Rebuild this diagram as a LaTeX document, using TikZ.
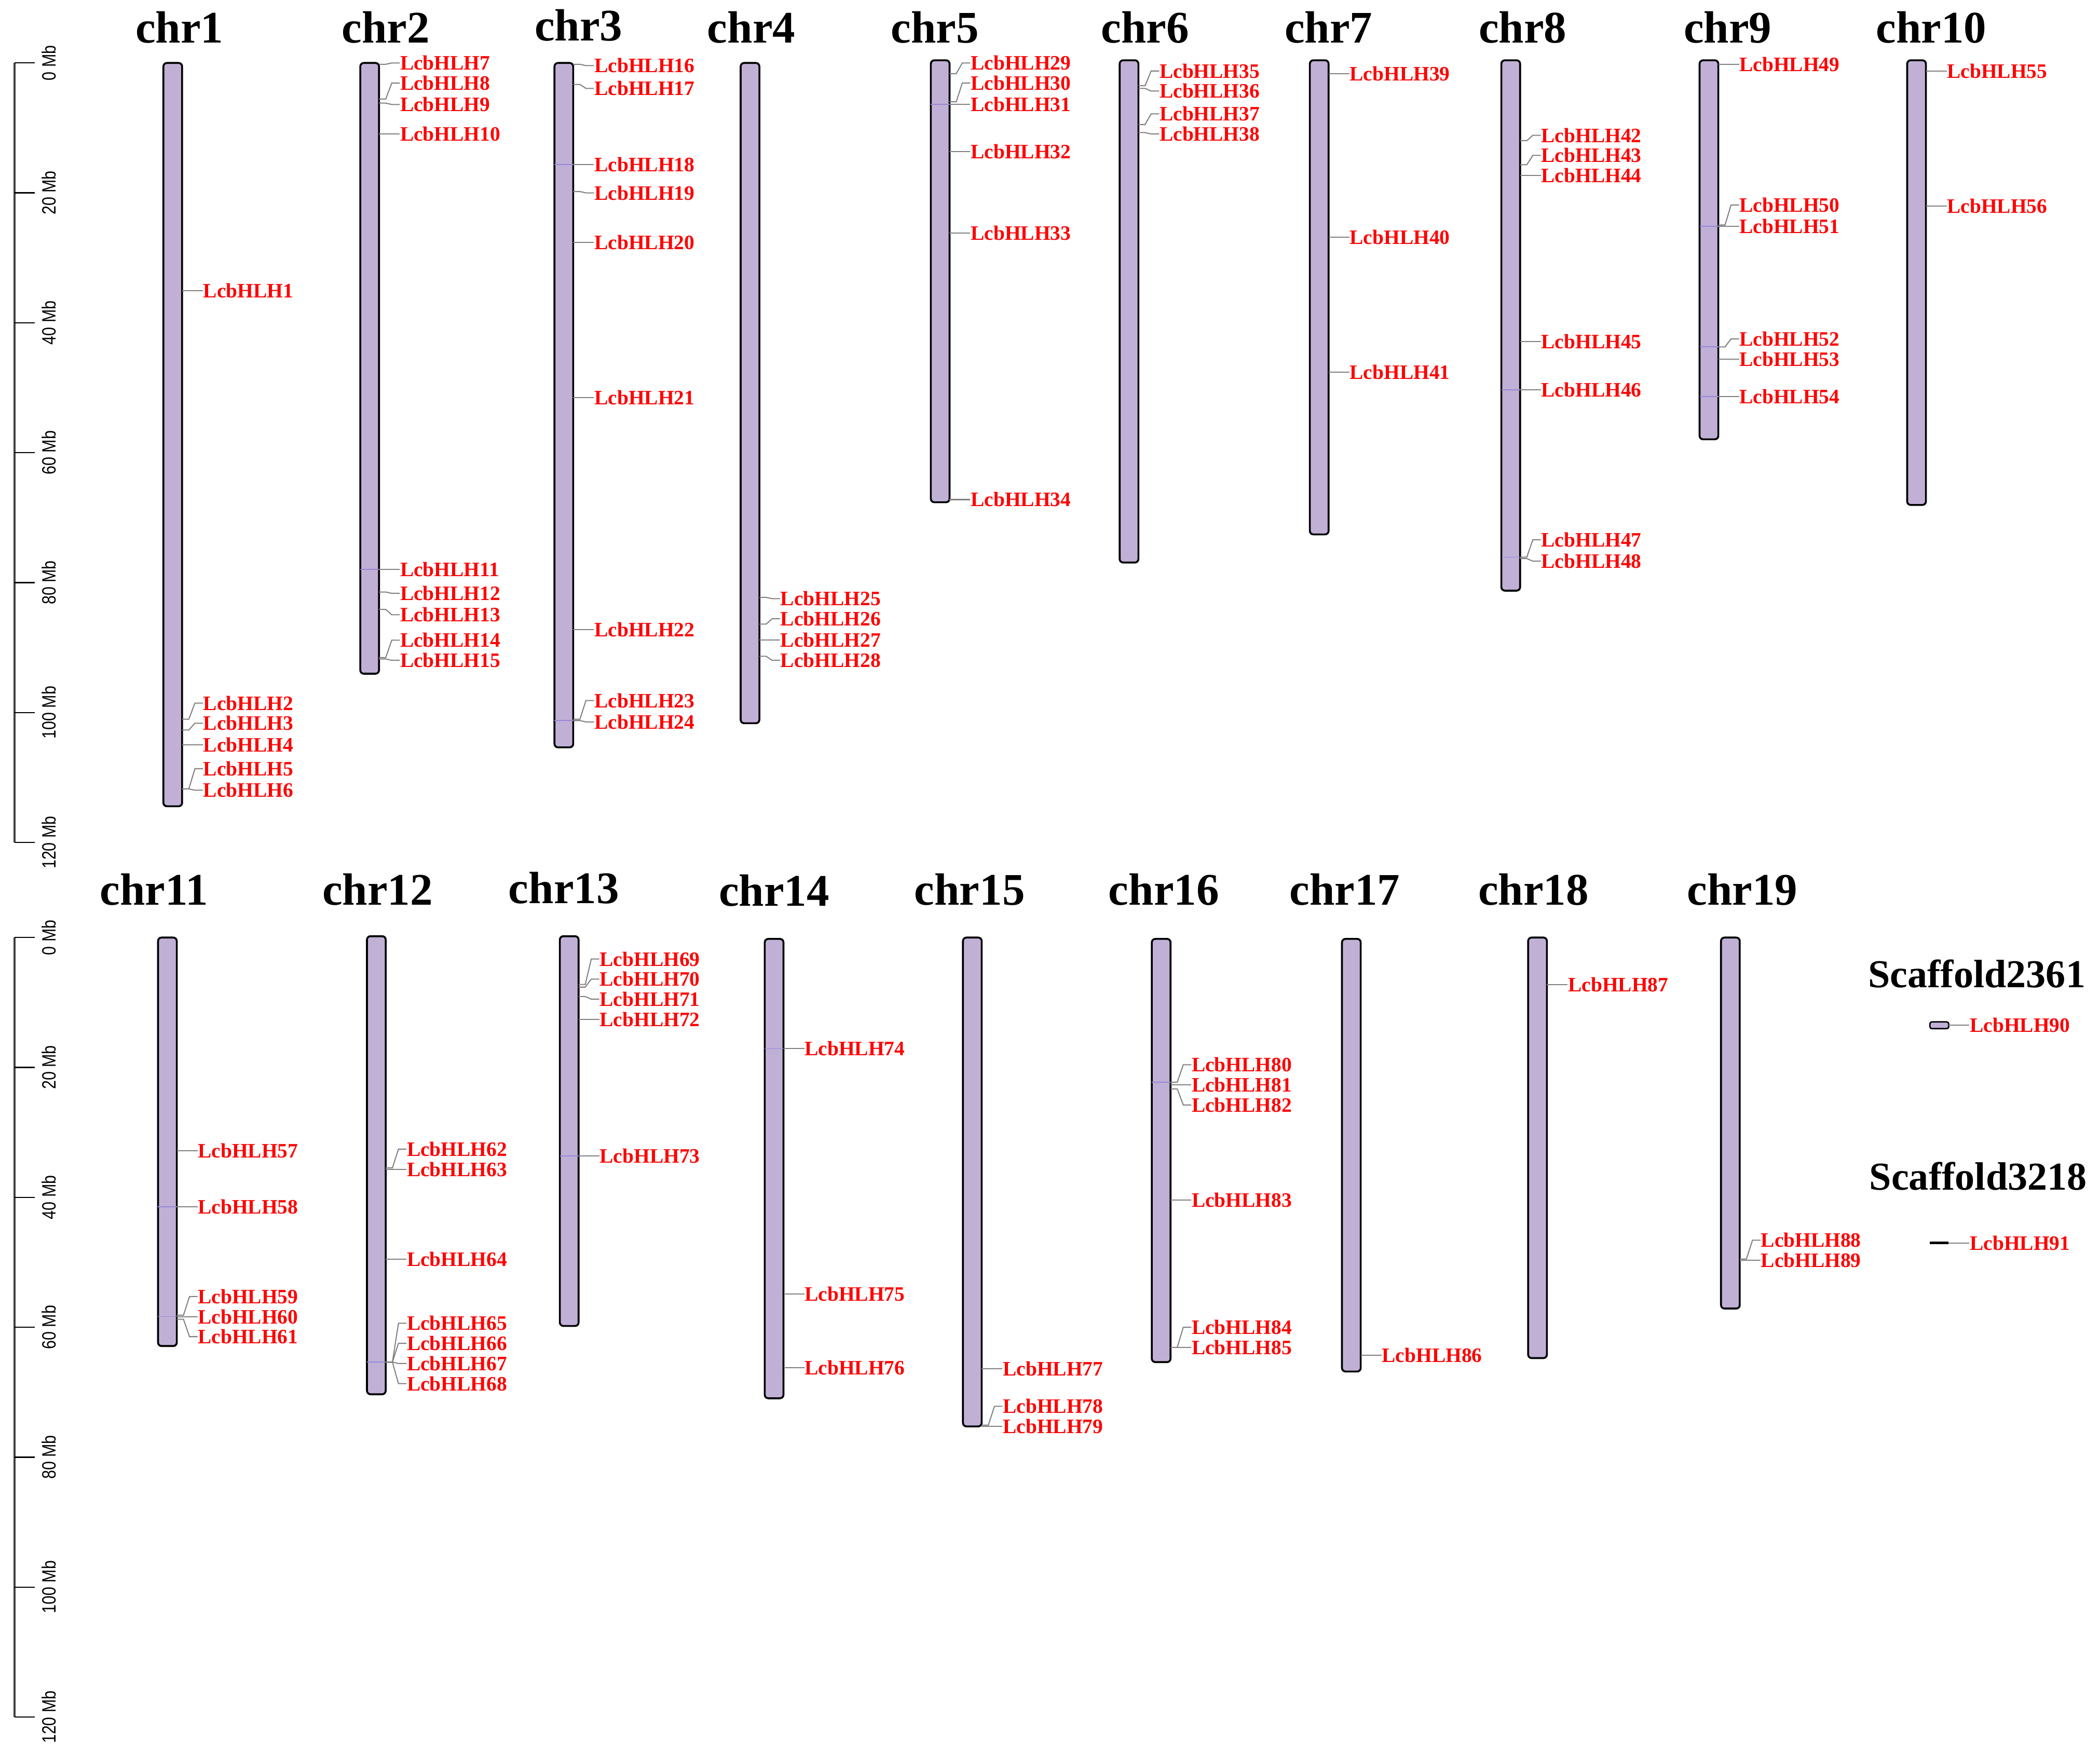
\documentclass[tikz,border=0pt]{standalone}
\usepackage{fontspec}
\setmainfont{Liberation Serif}
\newfontfamily\axisfont[FakeStretch=0.82]{Liberation Sans}
\usepackage{tikz}
\usetikzlibrary{calc}

\definecolor{chrfill}{RGB}{192,176,214}
\definecolor{bandcol}{RGB}{150,135,215}

% one chromosome: name, centre x, top, bottom, title x, title y
\newcommand{\chrom}[6]{%
  \draw[chrbar] (#2-7,#3) rectangle (#2+7,#4);
  \node[chrtitle] (t#1) at (#5,#6) {chr#1};
}
% one gene: bar edge x, gene y, label y, number
\newcommand{\gene}[4]{%
  \coordinate (g#4) at (#1,#2);
  \node[genelabel] (l#4) at (#1+15.5,#3) {LcbHLH#4};
  \draw[geneline] (g#4) -- ++(5,0) -- ($(l#4.west)+(-6,0)$) -- (l#4.west);
}
% band across a bar: bar edge x, y
\newcommand{\band}[2]{\draw[bandline] (#1-14,#2) -- (#1,#2);}

\begin{document}
\begin{tikzpicture}[x=0.02cm, y=-0.02cm]
    \tikzstyle{chrbar}=[draw=black,fill=chrfill,line width=0.8pt,rounded corners=1.5pt]
    \tikzstyle{chrtitle}=[inner sep=0pt,font=\fontsize{19.2}{22}\selectfont\bfseries]
    \tikzstyle{scftitle}=[inner sep=0pt,font=\fontsize{16.8}{20}\selectfont\bfseries]
    \tikzstyle{genelabel}=[anchor=west,inner sep=0pt,text=red,font=\fontsize{8.7}{10}\selectfont\bfseries]
    \tikzstyle{geneline}=[draw=gray,line width=0.45pt]
    \tikzstyle{bandline}=[draw=bandcol,line width=0.4pt]
    \tikzstyle{axline}=[draw=black!75,line width=0.9pt]
    \tikzstyle{axtick}=[draw=black,line width=0.5pt]
    \tikzstyle{axlabel}=[rotate=90,inner sep=0pt,font=\axisfont\fontsize{8.2}{9}\selectfont]
    \useasboundingbox (0,0) rectangle (1568,1302);

    % scales
    \draw[axline] (11,47) -- (11,629);
    \foreach \v in {0,20,...,120} {
      \draw[axtick] (11,47+4.85*\v) -- (26,47+4.85*\v);
      \node[axlabel] (a\v) at (36.5,47+4.85*\v) {\v\ Mb};
    }
    \draw[axline] (11,700) -- (11,1282);
    \foreach \v in {0,20,...,120} {
      \draw[axtick] (11,700+4.85*\v) -- (26,700+4.85*\v);
      \node[axlabel] (b\v) at (36.5,700+4.85*\v) {\v\ Mb};
    }

    % upper row
    \chrom{1}{129}{47}{602}{134}{20.5}
    \chrom{2}{276}{47}{503}{288}{20.5}
    \chrom{3}{421}{47}{558}{432}{19}
    \chrom{4}{560}{47}{540}{561}{20.5}
    \chrom{5}{702}{45}{375}{698}{20.5}
    \chrom{6}{843}{45}{420}{855}{20.5}
    \chrom{7}{985}{45}{399}{992}{20.5}
    \chrom{8}{1128}{45}{441}{1137}{20.5}
    \chrom{9}{1276}{45}{328}{1290}{20.5}
    \chrom{10}{1431}{45}{377}{1442}{20.5}

    % lower row
    \chrom{11}{125}{700}{1005}{115}{664}
    \chrom{12}{281}{699}{1041}{282}{664}
    \chrom{13}{425}{699}{990}{421}{663}
    \chrom{14}{578}{701}{1044}{578}{665}
    \chrom{15}{726}{700}{1065}{724}{664}
    \chrom{16}{867}{701}{1017}{869}{664}
    \chrom{17}{1009}{701}{1024}{1004}{664}
    \chrom{18}{1148}{700}{1014}{1145}{664}
    \chrom{19}{1292}{700}{977}{1301}{664}

    % scaffolds
    \node[scftitle] (s2361) at (1476,727) {Scaffold2361};
    \node[scftitle] (s3218) at (1477,878) {Scaffold3218};
    \draw[chrbar,line width=0.6pt,rounded corners=0.8pt] (1441,763) rectangle (1455,768);
    \draw[black,line width=1pt] (1441,928) -- (1455,928);

    % bands
    \band{283}{425}
    \band{428}{123}
    \band{428}{538}
    \band{709}{78}
    \band{1135}{291}
    \band{1135}{416}
    \band{1283}{169}
    \band{1283}{259}
    \band{1283}{296}
    \band{132}{901}
    \band{132}{983}
    \band{288}{1017}
    \band{432}{863}
    \band{585}{783}
    \band{874}{808}

    % genes
    \gene{136}{217}{217}{1}
    \gene{136}{537}{525}{2}
    \gene{136}{545}{540}{3}
    \gene{136}{556}{556}{4}
    \gene{136}{589}{574}{5}
    \gene{136}{589}{590}{6}
    \gene{283}{48}{47}{7}
    \gene{283}{74}{62}{8}
    \gene{283}{77}{78}{9}
    \gene{283}{100}{100}{10}
    \gene{283}{425}{425}{11}
    \gene{283}{442}{443}{12}
    \gene{283}{455}{459}{13}
    \gene{283}{491}{478}{14}
    \gene{283}{492}{493}{15}
    \gene{428}{48}{49}{16}
    \gene{428}{63}{66}{17}
    \gene{428}{123}{123}{18}
    \gene{428}{143}{144}{19}
    \gene{428}{181}{181}{20}
    \gene{428}{297}{297}{21}
    \gene{428}{470}{470}{22}
    \gene{428}{537}{523}{23}
    \gene{428}{538}{539}{24}
    \gene{567}{446}{447}{25}
    \gene{567}{466}{462}{26}
    \gene{567}{478}{478}{27}
    \gene{567}{490}{493}{28}
    \gene{709}{55}{47}{29}
    \gene{709}{76}{62}{30}
    \gene{709}{78}{78}{31}
    \gene{709}{113}{113}{32}
    \gene{709}{174}{174}{33}
    \gene{709}{373}{373}{34}
    \gene{850}{64}{53}{35}
    \gene{850}{66}{68}{36}
    \gene{850}{93}{85}{37}
    \gene{850}{99}{100}{38}
    \gene{992}{55}{55}{39}
    \gene{992}{177}{177}{40}
    \gene{992}{278}{278}{41}
    \gene{1135}{105}{101}{42}
    \gene{1135}{123}{116}{43}
    \gene{1135}{131}{131}{44}
    \gene{1135}{255}{255}{45}
    \gene{1135}{291}{291}{46}
    \gene{1135}{416}{403}{47}
    \gene{1135}{417}{419}{48}
    \gene{1283}{48}{48}{49}
    \gene{1283}{168}{153}{50}
    \gene{1283}{169}{169}{51}
    \gene{1283}{259}{253}{52}
    \gene{1283}{268}{268}{53}
    \gene{1283}{296}{296}{54}
    \gene{1438}{53}{53}{55}
    \gene{1438}{154}{154}{56}
    \gene{132}{859}{859}{57}
    \gene{132}{901}{901}{58}
    \gene{132}{982}{968}{59}
    \gene{132}{983}{983}{60}
    \gene{132}{985}{998}{61}
    \gene{288}{872}{858}{62}
    \gene{288}{873}{873}{63}
    \gene{288}{940}{940}{64}
    \gene{288}{1017}{988}{65}
    \gene{288}{1017}{1003}{66}
    \gene{288}{1017}{1018}{67}
    \gene{288}{1017}{1033}{68}
    \gene{432}{735}{716}{69}
    \gene{432}{737}{731}{70}
    \gene{432}{744}{746}{71}
    \gene{432}{761}{761}{72}
    \gene{432}{863}{863}{73}
    \gene{585}{783}{783}{74}
    \gene{585}{966}{966}{75}
    \gene{585}{1021}{1021}{76}
    \gene{733}{1022}{1022}{77}
    \gene{733}{1064}{1050}{78}
    \gene{733}{1065}{1065}{79}
    \gene{874}{808}{795}{80}
    \gene{874}{810}{810}{81}
    \gene{874}{813}{825}{82}
    \gene{874}{896}{896}{83}
    \gene{874}{1006}{991}{84}
    \gene{874}{1006}{1006}{85}
    \gene{1016}{1012}{1012}{86}
    \gene{1155}{735}{735}{87}
    \gene{1299}{940}{926}{88}
    \gene{1299}{941}{941}{89}
    \gene{1455}{765.5}{765.5}{90}
    \gene{1455}{928}{928}{91}
\end{tikzpicture}
\end{document}
